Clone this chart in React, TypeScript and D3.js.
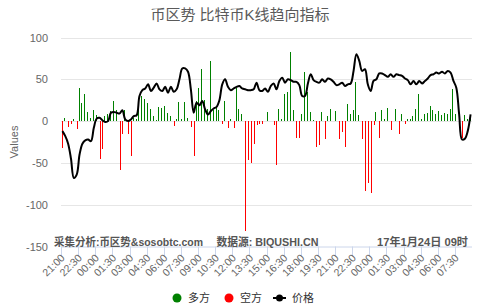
import React from 'react';
import * as d3 from 'd3';

// x-axis tick labels (one every 6 points, 15-minute data)
const tickLabels = ['21:00','22:30','00:00','01:30','03:00','04:30','06:00','07:30','09:00','10:30','12:00','13:30','15:00','16:30','18:00','19:30','21:00','22:30','00:00','01:30','03:00','04:30','06:00','07:30'];
const pointsPerTick = 6;
const yTicks = [-150, -100, -50, 0, 50, 100];

// trend strength per point: positive = 多方, negative = 空方, null = none
const trendValues: (number | null)[] = [
  -32, 4, -7, -4, 3, -9, 40, 22, 33, 11, 4, 13, 7, -45, -33, 6, 9, 12, 24, 13,
  -58, -15, 13, -15, -42, 4, 3, 17, 30, 26, 22, 15, 6, 1, 17, 16, 18, 10, 6, -6,
  2, 23, 2, 23, 4, -7, -42, 24, 40, 62, 25, 15, 72, 13, 18, 13, -4, 24, -8, 2,
  -8, 39, 15, 9, -131, -47, -50, -27, -5, -4, -3, null, 11, null, -5, -52, 14, 3, 32, 35,
  83, 13, -20, -20, 8, 59, 35, 11, 1, -31, -28, 11, -22, 6, 15, null, 12, -21, -13, -31,
  20, 9, 13, 47, 7, -22, -84, -74, -86, -5, 11, -20, 13, 3, 16, -11, null, 15, -16, 8,
  -4, 3, 2, 6, 14, 32, 3, 9, 10, 18, 13, 8, 12, 7, 10, 8, 15, 38, 9, null,
  -20, 7, 3, 4,
];

// 价格 (scaled onto the same axis)
const priceValues: number[] = [
  -12, -18, -27, -45, -68, -64, -40, -27, -23, -22, -24, -8, 3, 4, 1, -1, 0, 10, 11, 10,
  9, 13, 2, 0, 2, 6, 7, 30, 37, 39, 44, 36, 40, 45, 38, 36, 41, 34, 41, 35,
  38, 50, 63, 63, 59, 38, 10, 22, 19, 24, 14, 8, 12, 15, 17, 25, 44, 50, 41, 37,
  39, 41, 42, 39, 38, 37, 37, 38, 46, 37, 36, 39, 35, 42, 45, 38, 48, 52, 46, 50,
  49, 47, 47, 43, 30, 30, 45, 56, 49, 47, 46, 50, 47, 51, 50, 47, 43, 44, 46, 42,
  44, 45, 60, 80, 72, 60, 62, 44, 36, 48, 50, 57, 57, 55, 53, 56, 53, 56, 55, 54,
  51, 49, 44, 48, 44, 48, 45, 48, 51, 55, 56, 58, 57, 59, 57, 60, 58, 48, 40, 8,
  -22, -21, -12, 8,
];

const bullish = trendValues.map(v => (v !== null && v > 0 ? v : null));
const bearish = trendValues.map(v => (v !== null && v < 0 ? v : null));

const FONT = "'Liberation Sans','Noto Sans CJK SC',sans-serif";

export default function App() {
  const W = 480, H = 306;
  const left = 61, right = 472, top = 37.5, bottom = 246.5;
  const n = priceValues.length;
  const x = d3.scaleBand<number>().domain(d3.range(n)).range([left, right]).padding(0);
  const y = d3.scaleLinear().domain([-150, 100]).range([bottom, top]);
  const bw = x.bandwidth();
  const cx = (i: number) => (x(i) as number) + bw / 2;
  const line = d3.line<number>().x((_, i) => cx(i)).y(d => y(d)).curve(d3.curveCatmullRom.alpha(0.5));

  const ticks = tickLabels.map((t, k) => ({ t, i: k * pointsPerTick }));

  return (
    <svg width={W} height={H} style={{ position: 'absolute', left: 0, top: 0, background: '#fff' }} fontFamily={FONT}>
      <rect width={W} height={H} fill="#fff" />
      <text x={240} y={20} textAnchor="middle" fontSize={15} fill="#5a5a5a">币区势 比特币K线趋向指标</text>

      {yTicks.map(v => (
        <g key={v}>
          {v !== -150 && <line x1={left} x2={right} y1={Math.round(y(v)) + 0.5} y2={Math.round(y(v)) + 0.5} stroke="#e6e6e6" />}
          <text x={48} y={y(v) + 4} textAnchor="end" fontSize={11} fill="#666">{v}</text>
        </g>
      ))}
      <text transform={`translate(18,${(top + bottom) / 2}) rotate(-90)`} textAnchor="middle" fontSize={11} fill="#666">Values</text>

      {bullish.map((v, i) => v === null ? null : (
        <rect key={'g' + i} x={Math.round(cx(i) - 1)} width={1} y={y(v)} height={y(0) - y(v)} fill="#008000" shapeRendering="crispEdges" />
      ))}
      {bearish.map((v, i) => v === null ? null : (
        <rect key={'r' + i} x={Math.round(cx(i))} width={1} y={y(0)} height={y(v) - y(0)} fill="#ff0000" shapeRendering="crispEdges" />
      ))}

      <path d={line(priceValues) || ''} fill="none" stroke="#000" strokeWidth={2} strokeLinejoin="round" />

      <line x1={left} x2={right} y1={bottom + 0.5} y2={bottom + 0.5} stroke="#ccd6eb" />
      {ticks.map(({ t, i }) => (
        <g key={i}>
          <line x1={Math.round(x(i) as number) + 0.5} x2={Math.round(x(i) as number) + 0.5} y1={bottom} y2={bottom + 10} stroke="#ccd6eb" />
          <text transform={`translate(${cx(i) + 3},${bottom + 12}) rotate(-45)`} textAnchor="end" fontSize={10.5} fill="#666">{t}</text>
        </g>
      ))}

      <g fontSize={11} fontWeight="bold" fill="#555">
        <text x={54} y={246} textLength={149} lengthAdjust="spacingAndGlyphs">采集分析:币区势&amp;sosobtc.com</text>
        <text x={216.5} y={246} textLength={102} lengthAdjust="spacingAndGlyphs">数据源: BIQUSHI.CN</text>
        <text x={377} y={246} textLength={91} lengthAdjust="spacingAndGlyphs">17年1月24日 09时</text>
      </g>

      <g fontSize={11} fill="#333">
        <circle cx={177} cy={298} r={4.5} fill="#008000" />
        <text x={188} y={302}>多方</text>
        <circle cx={229} cy={298} r={4.5} fill="#ff0000" />
        <text x={240} y={302}>空方</text>
        <line x1={273} x2={286} y1={298} y2={298} stroke="#000" strokeWidth={2} />
        <circle cx={279.5} cy={298} r={3.5} fill="#000" />
        <text x={292} y={302}>价格</text>
      </g>
    </svg>
  );
}
